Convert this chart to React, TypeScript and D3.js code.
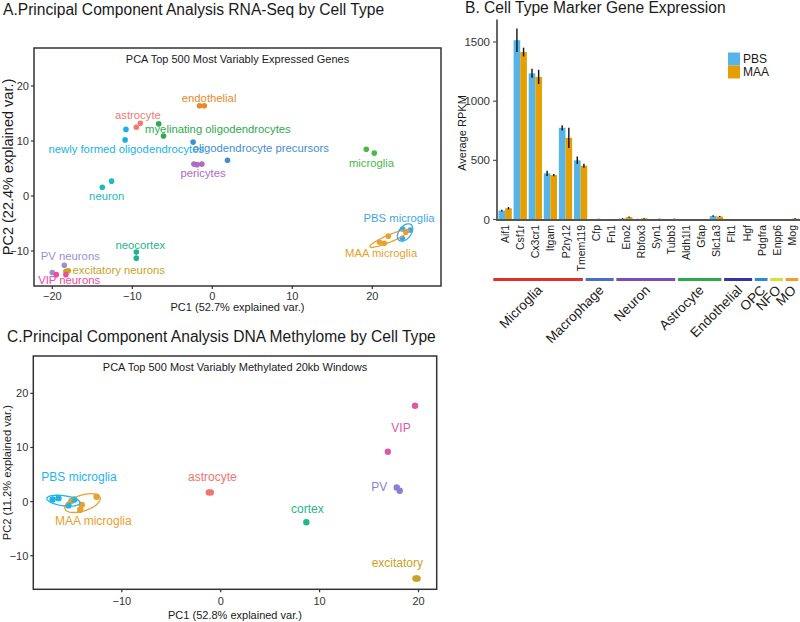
import React from "react";
import * as d3 from "d3";

// ---------------- Panel A data (RNA-seq PCA) ----------------
const rnaGroups = [
  "astrocyte", "endothelial", "excitatory neurons", "MAA microglia", "microglia",
  "myelinating oligodendrocytes", "neocortex", "neuron", "newly formed oligodendrocytes",
  "oligodendrocyte precursors", "PBS microglia", "pericytes", "PV neurons", "VIP neurons",
];
const rnaColors = [
  "#F07A72", "#E8892A", "#C9A227", "#EAA030", "#4CB848",
  "#2EAA4E", "#1CB68E", "#1DBAC0", "#1AB2E6",
  "#3F8ED6", "#3DA8E6", "#B06AC0", "#9A8FD4", "#EC4C9E",
];
const rnaPointGroup = [
  "endothelial", "endothelial", "astrocyte", "astrocyte",
  "newly formed oligodendrocytes", "newly formed oligodendrocytes",
  "myelinating oligodendrocytes", "myelinating oligodendrocytes",
  "oligodendrocyte precursors", "oligodendrocyte precursors",
  "pericytes", "pericytes", "pericytes", "neuron", "neuron",
  "microglia", "microglia",
  "MAA microglia", "MAA microglia", "MAA microglia", "MAA microglia",
  "PBS microglia", "PBS microglia", "PBS microglia",
  "neocortex", "neocortex", "PV neurons", "PV neurons",
  "excitatory neurons", "excitatory neurons", "VIP neurons", "VIP neurons",
];
const rnaPC1 = [
  -1.6, -1.0, -9.5, -9.0,
  -10.8, -10.9,
  -6.7, -6.1,
  -2.4, 1.9,
  -2.3, -1.9, -1.3, -13.75, -12.6,
  19.25, 20.25,
  24.2, 22.0, 21.5, 20.9,
  23.8, 24.75, 23.75,
  -9.5, -9.5, -18.5, -20.0,
  -18.0, -18.3, -19.5, -18.3,
];
const rnaPC2 = [
  16.4, 16.4, 12.5, 13.2,
  12.1, 10.2,
  13.1, 10.9,
  9.8, 6.5,
  5.8, 5.7, 5.8, 1.6, 2.7,
  8.5, 7.8,
  -6.6, -7.3, -8.6, -8.4,
  -6.0, -6.2, -7.7,
  -10.2, -11.3, -12.6, -13.9,
  -13.6, -13.7, -14.3, -14.3,
];
const rnaLabelPC1 = [-9.3, -0.4, -11.7, 21.1, 19.9, 0.7, -9.0, -13.2, -10.75, 6.06, 23.34, -1.16, -17.75, -17.9];
const rnaLabelPC2 = [14.67, 17.87, -13.45, -10.42, 6.05, 12.13, -8.9, 0.0, 8.55, 8.78, -3.95, 4.13, -10.85, -15.27];
const rnaXTicks = [-20, -10, 0, 10, 20];
const rnaYTicks = [-10, 0, 10, 20];

// ---------------- Panel C data (methylome PCA) ----------------
const methGroups = ["astrocyte", "cortex", "excitatory", "MAA microglia", "PBS microglia", "PV", "VIP"];
const methColors = ["#F07470", "#1FB88A", "#CBA025", "#E9A02F", "#1EB4EA", "#8C7FD2", "#DC5AA5"];
const methPointGroup = [
  "astrocyte", "astrocyte", "cortex", "excitatory", "excitatory",
  "MAA microglia", "MAA microglia", "MAA microglia", "MAA microglia",
  "PBS microglia", "PBS microglia", "PBS microglia", "PBS microglia",
  "PV", "PV", "VIP", "VIP",
];
const methPC1 = [
  -1.2, -1.0, 8.66, 19.9, 19.7,
  -15.1, -14.05, -14.2, -12.55,
  -17.0, -16.4, -15.4, -14.8,
  17.8, 18.1, 19.65, 16.9,
];
const methPC2 = [
  1.7, 1.7, -3.8, -14.2, -14.2,
  0.1, -0.6, -1.5, 0.9,
  0.4, 0.6, -0.7, 0.4,
  2.6, 2.0, 17.7, 9.2,
];
const methLabelPC1 = [-0.85, 8.76, 17.86, -12.88, -14.33, 16.04, 18.23];
const methLabelPC2 = [4.51, -1.4, -11.39, -3.57, 4.57, 2.77, 13.57];
const methXTicks = [-10, 0, 10, 20];
const methYTicks = [-10, 0, 10, 20];

const ellipseGroups = ["MAA microglia", "PBS microglia"];

// ---------------- Panel B data (marker genes) ----------------
const genes = [
  "Aif1", "Csf1r", "Cx3cr1", "Itgam", "P2ry12", "Tmem119", "Cfp", "Fn1", "Eno2", "Rbfox3",
  "Syn1", "Tubb3", "Aldh1l1", "Gfap", "Slc1a3", "Flt1", "Hgf", "Pdgfra", "Enpp6", "Mog",
];
const treatments = ["PBS", "MAA"];
const pbsMean = [75, 1515, 1235, 390, 775, 500, 2, 2, 8, 4, 2, 2, 1, 1, 30, 1, 1, 1, 1, 3];
const pbsErr = [8, 100, 38, 22, 22, 32, 1, 1, 3, 2, 1, 1, 1, 1, 6, 1, 1, 1, 1, 1];
const maaMean = [95, 1415, 1205, 375, 690, 455, 5, 3, 20, 10, 5, 5, 1, 1, 25, 1, 1, 1, 1, 8];
const maaErr = [10, 37, 60, 10, 85, 17, 2, 1, 5, 3, 2, 2, 1, 1, 4, 1, 1, 1, 1, 3];
const treatmentColors = ["#56B4E9", "#E69F00"];
const bYTicks = [0, 500, 1000, 1500];
const cellGroups = ["Microglia", "Macrophage", "Neuron", "Astrocyte", "Endothelial", "OPC", "NFO", "MO"];
const cellGroupSizes = [6, 2, 4, 3, 2, 1, 1, 1];
const cellGroupColors = ["#E0302C", "#4A6FC0", "#7E4BB8", "#2BA84A", "#3535A0", "#2A8AD8", "#D8E030", "#F39C2A"];

const FONT = "'Liberation Sans', Arial, Helvetica, sans-serif";
const fmt = d3.format("d");

function ellipseD(xs: number[], ys: number[], k: number, sx: any, sy: any) {
  const n = xs.length;
  const mx = d3.mean(xs)!;
  const my = d3.mean(ys)!;
  let sxx = 0, syy = 0, sxy = 0;
  for (let i = 0; i < n; i++) {
    sxx += (xs[i] - mx) ** 2;
    syy += (ys[i] - my) ** 2;
    sxy += (xs[i] - mx) * (ys[i] - my);
  }
  sxx /= n - 1; syy /= n - 1; sxy /= n - 1;
  const tr = sxx + syy, det = sxx * syy - sxy * sxy;
  const disc = Math.sqrt(Math.max(0, (tr * tr) / 4 - det));
  const l1 = tr / 2 + disc, l2 = Math.max(tr / 2 - disc, 1e-6);
  const th = Math.abs(sxy) < 1e-12 ? (sxx >= syy ? 0 : Math.PI / 2) : Math.atan2(l1 - sxx, sxy);
  const pts: [number, number][] = d3.range(0, 73).map((i) => {
    const t = (i / 72) * 2 * Math.PI;
    const u = k * Math.sqrt(l1) * Math.cos(t);
    const v = k * Math.sqrt(l2) * Math.sin(t);
    return [sx(mx + u * Math.cos(th) - v * Math.sin(th)), sy(my + u * Math.sin(th) + v * Math.cos(th))];
  });
  return d3.line().curve(d3.curveLinearClosed)(pts) || "";
}

type PCAProps = {
  box: { l: number; r: number; t: number; b: number };
  xDomain: [number, number];
  yDomain: [number, number];
  xTicks: number[];
  yTicks: number[];
  groups: string[];
  colors: string[];
  pointGroup: string[];
  pc1: number[];
  pc2: number[];
  labelPC1: number[];
  labelPC2: number[];
  subtitle: string;
  xTitle: string;
  yTitle: string;
  radius: number;
  labelSize: number;
  yTitleSize: number;
  tickLabelY: number;
  xTitleY: number;
  yTitleX: number;
};

function PCAPanel(p: PCAProps) {
  const { box } = p;
  const sx = d3.scaleLinear().domain(p.xDomain).range([box.l, box.r]);
  const sy = d3.scaleLinear().domain(p.yDomain).range([box.b, box.t]);
  const colorOf = d3.scaleOrdinal<string, string>().domain(p.groups).range(p.colors);
  const order = d3.range(p.pc1.length).sort(
    (a, b) => p.groups.indexOf(p.pointGroup[a]) - p.groups.indexOf(p.pointGroup[b])
  );
  return (
    <g fontFamily={FONT}>
      <text x={(box.l + box.r) / 2} y={box.t + 15} textAnchor="middle" fontSize={11} fill="#1a1a1a">
        {p.subtitle}
      </text>
      {order.map((i) => (
        <circle key={i} cx={sx(p.pc1[i])} cy={sy(p.pc2[i])} r={p.radius} fill={colorOf(p.pointGroup[i])} />
      ))}
      {ellipseGroups.map((g) => {
        const idx = d3.range(p.pc1.length).filter((i) => p.pointGroup[i] === g);
        return (
          <path
            key={g}
            d={ellipseD(idx.map((i) => p.pc1[i]), idx.map((i) => p.pc2[i]), 1.7, sx, sy)}
            fill="none"
            stroke={colorOf(g)}
            strokeWidth={1.3}
          />
        );
      })}
      {p.groups.map((g, i) => (
        <text
          key={g}
          x={sx(p.labelPC1[i])}
          y={sy(p.labelPC2[i])}
          textAnchor="middle"
          dominantBaseline="central"
          fontSize={p.labelSize}
          fill={colorOf(g)}
        >
          {g}
        </text>
      ))}
      <rect x={box.l} y={box.t} width={box.r - box.l} height={box.b - box.t} fill="none" stroke="#333" strokeWidth={1.5} />
      {p.xTicks.map((t) => (
        <g key={"x" + t}>
          <line x1={sx(t)} x2={sx(t)} y1={box.b} y2={box.b + 3} stroke="#333" strokeWidth={1.2} />
          <text x={sx(t)} y={p.tickLabelY} textAnchor="middle" fontSize={11} fill="#333">
            {fmt(t)}
          </text>
        </g>
      ))}
      {p.yTicks.map((t) => (
        <g key={"y" + t}>
          <line x1={box.l - 3} x2={box.l} y1={sy(t)} y2={sy(t)} stroke="#333" strokeWidth={1.2} />
          <text x={box.l - 5} y={sy(t)} textAnchor="end" dominantBaseline="central" fontSize={11} fill="#333">
            {fmt(t)}
          </text>
        </g>
      ))}
      <text x={(box.l + box.r) / 2} y={p.xTitleY} textAnchor="middle" fontSize={11} fill="#1a1a1a">
        {p.xTitle}
      </text>
      <text
        transform={`translate(${p.yTitleX},${(box.t + box.b) / 2}) rotate(-90)`}
        textAnchor="middle"
        dominantBaseline="central"
        fontSize={p.yTitleSize}
        fill="#1a1a1a"
      >
        {p.yTitle}
      </text>
    </g>
  );
}

function BarPanel() {
  const x = d3.scaleBand<string>().domain(genes).range([497, 800]).paddingInner(0.12).paddingOuter(0.1);
  const xs = d3.scaleBand<string>().domain(treatments).range([0, x.bandwidth()]);
  const y = d3.scaleLinear().domain([0, 1690]).range([219.5, 19.5]);
  const means = [pbsMean, maaMean];
  const errs = [pbsErr, maaErr];
  const ann = d3.scaleLinear().domain([0, genes.length]).range([493.3, 801]);
  const starts = cellGroupSizes.map((_, i) => d3.sum(cellGroupSizes.slice(0, i)));
  return (
    <g fontFamily={FONT}>
      <text x={465} y={12.5} fontSize={15.6} fill="#1a1a1a">B. Cell Type Marker Gene Expression</text>
      {genes.map((g, gi) =>
        treatments.map((t, ti) => (
          <rect
            key={g + t}
            x={(x(g) as number) + (xs(t) as number)}
            y={y(means[ti][gi])}
            width={xs.bandwidth()}
            height={y(0) - y(means[ti][gi])}
            fill={treatmentColors[ti]}
          />
        ))
      )}
      {genes.map((g, gi) =>
        treatments.map((t, ti) => {
          const cx = (x(g) as number) + (xs(t) as number) + xs.bandwidth() / 2;
          return (
            <line
              key={"e" + g + t}
              x1={cx}
              x2={cx}
              y1={y(means[ti][gi] + errs[ti][gi])}
              y2={y(Math.max(0, means[ti][gi] - errs[ti][gi]))}
              stroke="#111"
              strokeWidth={1.4}
            />
          );
        })
      )}
      <line x1={497} x2={497} y1={19.5} y2={220.5} stroke="#555" strokeWidth={1.8} />
      <line x1={496} x2={800} y1={220} y2={220} stroke="#555" strokeWidth={1.8} />
      {bYTicks.map((t) => (
        <g key={t}>
          <line x1={493} x2={497} y1={y(t)} y2={y(t)} stroke="#555" strokeWidth={1.2} />
          <text x={490} y={y(t)} textAnchor="end" dominantBaseline="central" fontSize={11.5} fill="#333">
            {t}
          </text>
        </g>
      ))}
      <text transform="translate(462,133) rotate(-90)" textAnchor="middle" dominantBaseline="central" fontSize={11} fill="#1a1a1a">
        Average RPKM
      </text>
      {genes.map((g) => (
        <text
          key={"l" + g}
          transform={`translate(${(x(g) as number) + x.bandwidth() / 2},225) rotate(-90)`}
          textAnchor="end"
          dominantBaseline="central"
          fontSize={10.5}
          fill="#1a1a1a"
        >
          {g}
        </text>
      ))}
      {treatments.map((t, i) => (
        <g key={"lg" + t}>
          <rect x={728} y={52.5 + i * 13} width={12} height={13} fill={treatmentColors[i]} />
          <text x={743} y={59 + i * 13} dominantBaseline="central" fontSize={12} fill="#1a1a1a">
            {t}
          </text>
        </g>
      ))}
      {cellGroups.map((c, i) => {
        const x1 = ann(starts[i]);
        const x2 = ann(starts[i] + cellGroupSizes[i]) - 2.7;
        const mid = (x1 + x2) / 2;
        return (
          <g key={c}>
            <line x1={x1} x2={x2} y1={279.5} y2={279.5} stroke={cellGroupColors[i]} strokeWidth={3} />
            <text
              transform={`translate(${mid + 5},291) rotate(-45)`}
              textAnchor="end"
              fontSize={13.5}
              fill="#1a1a1a"
            >
              {c}
            </text>
          </g>
        );
      })}
    </g>
  );
}

export default function App() {
  return (
    <svg width={800} height={622} style={{ display: "block", position: "absolute", left: 0, top: 0, background: "#fff" }}>
      <rect width={800} height={622} fill="#fff" />
      <text x={3} y={14.5} fontFamily={FONT} fontSize={15.6} fill="#1a1a1a">
        A.Principal Component Analysis RNA-Seq by Cell Type
      </text>
      <PCAPanel
        box={{ l: 34, r: 441, t: 48, b: 286 }}
        xDomain={[-22.29, 28.59]}
        yDomain={[-16.36, 26.9]}
        xTicks={rnaXTicks}
        yTicks={rnaYTicks}
        groups={rnaGroups}
        colors={rnaColors}
        pointGroup={rnaPointGroup}
        pc1={rnaPC1}
        pc2={rnaPC2}
        labelPC1={rnaLabelPC1}
        labelPC2={rnaLabelPC2}
        subtitle="PCA Top 500 Most Variably Expressed Genes"
        xTitle="PC1 (52.7% explained var.)"
        yTitle="PC2 (22.4% explained var.)"
        radius={2.8}
        labelSize={11.3}
        yTitleSize={14.5}
        tickLabelY={300}
        xTitleY={311}
        yTitleX={8}
      />
      <BarPanel />
      <text x={7} y={341.5} fontFamily={FONT} fontSize={15.6} fill="#1a1a1a">
        C.Principal Component Analysis DNA Methylome by Cell Type
      </text>
      <PCAPanel
        box={{ l: 33.3, r: 436.7, t: 356, b: 589.3 }}
        xDomain={[-18.95, 21.84]}
        yDomain={[-16.2, 26.9]}
        xTicks={methXTicks}
        yTicks={methYTicks}
        groups={methGroups}
        colors={methColors}
        pointGroup={methPointGroup}
        pc1={methPC1}
        pc2={methPC2}
        labelPC1={methLabelPC1}
        labelPC2={methLabelPC2}
        subtitle="PCA Top 500 Most Variably Methylated 20kb Windows"
        xTitle="PC1 (52.8% explained var.)"
        yTitle="PC2 (11.2% explained var.)"
        radius={3.2}
        labelSize={12}
        yTitleSize={11.2}
        tickLabelY={605}
        xTitleY={619}
        yTitleX={7}
      />
    </svg>
  );
}
